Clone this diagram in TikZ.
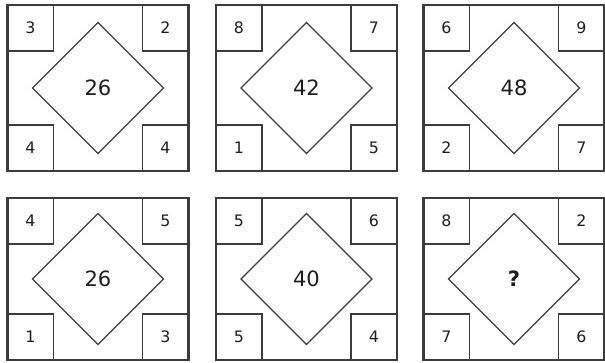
\documentclass[tikz,border=0pt]{standalone}
\usepackage{fontspec}
\setmainfont{DejaVu Sans}
\usepackage{xcolor}
\usepackage{tikz}
\usetikzlibrary{shapes.geometric}
\definecolor{pline}{RGB}{60, 60, 60}
\definecolor{ptext}{RGB}{30, 30, 30}

% one puzzle card: name, x, y, height, top left, top right, bottom left, bottom right, centre
\newcommand{\puzzlepanel}[9]{%
  \node[panel, minimum height=#4] (#1) at (#2,#3) {};
  \node[corner, anchor=north west] (#1-tl) at (#1.north west) {#5};
  \node[corner, anchor=north east] (#1-tr) at (#1.north east) {#6};
  \node[corner, anchor=south west] (#1-bl) at (#1.south west) {#7};
  \node[corner, anchor=south east] (#1-br) at (#1.south east) {#8};
  \node[rhomb] (#1-c) at (#1.center) {#9};
}

\begin{document}
\begin{tikzpicture}[x=0.02cm, y=-0.02cm,
  every node/.style={outer sep=0pt, inner sep=0pt, text=ptext},
  panel/.style={rectangle, draw=pline, line width=1.2pt, minimum width=3.62cm},
  corner/.style={rectangle, draw=pline, line width=0.8pt, minimum size=0.92cm,
    font=\fontsize{9}{11}\selectfont},
  rhomb/.style={diamond, draw=pline, line width=0.7pt, aspect=1, minimum size=2.62cm,
    font=\fontsize{12}{14}\selectfont}]
\useasboundingbox (0,0) rectangle (605,362);
% Linha de cima
\puzzlepanel{p1}{98}{88}{3.32cm}{3}{2}{4}{4}{26}
\puzzlepanel{p2}{306.5}{88}{3.32cm}{8}{7}{1}{5}{42}
\puzzlepanel{p3}{514}{88}{3.32cm}{6}{9}{2}{7}{48}
% Linha de baixo
\puzzlepanel{p4}{98}{279}{3.24cm}{4}{5}{1}{3}{26}
\puzzlepanel{p5}{306.5}{279}{3.24cm}{5}{6}{5}{4}{40}
\puzzlepanel{p6}{514}{279}{3.24cm}{8}{2}{7}{6}{\textbf{?}}
\end{tikzpicture}
\end{document}
